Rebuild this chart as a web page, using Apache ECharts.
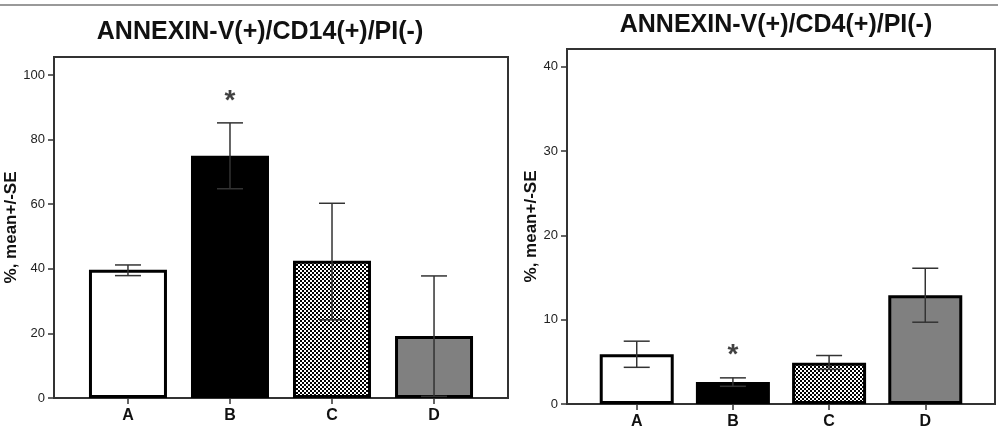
<!DOCTYPE html>
<html>
<head>
<meta charset="utf-8">
<script src="https://cdn.jsdelivr.net/npm/echarts@6/dist/echarts.min.js"></script>
<style>
html,body{margin:0;padding:0;background:#fff;}
#chart{width:998px;height:430px;}
</style>
</head>
<body>
<div id="chart"></div>
<script>
// ---- data ----
var categories = ['A', 'B', 'C', 'D'];
var titleLeft = 'ANNEXIN-V(+)/CD14(+)/PI(-)';
var titleRight = 'ANNEXIN-V(+)/CD4(+)/PI(-)';
var yAxisName = '%, mean+/-SE';

var cd14Mean = [39.7, 75.0, 42.5, 19.2];
var cd14Low  = [37.9, 64.8, 24.2, 0.5];
var cd14High = [41.2, 85.2, 60.3, 37.8];
var cd14Ticks = [0, 20, 40, 60, 80, 100];
var cd14Star = [null, 92, null, null];

var cd4Mean = [5.9, 2.6, 4.9, 12.9];
var cd4Low  = [4.35, 2.1, 4.1, 9.7];
var cd4High = [7.45, 3.1, 5.75, 16.1];
var cd4Ticks = [0, 10, 20, 30, 40];
var cd4Star = [null, 5.8, null, null];

// ---- styles ----
function checker() {
  var c = document.createElement('canvas');
  c.width = 4; c.height = 4;
  var g = c.getContext('2d');
  g.fillStyle = '#fff'; g.fillRect(0, 0, 4, 4);
  g.fillStyle = '#000';
  g.fillRect(0, 0, 2, 2);
  g.fillRect(2, 2, 2, 2);
  return c;
}
var FONT = 'Liberation Sans, Arial, sans-serif';
var fills = ['#ffffff', '#000000', {image: checker(), repeat: 'repeat'}, '#808080'];
var catIdx = categories.map(function (c, i) { return i; });

function barData(vals) {
  return vals.map(function (v, i) {
    return {value: [i, v], itemStyle: {color: fills[i], borderColor: '#000', borderWidth: 3}};
  });
}
function errData(lo, hi) {
  return lo.map(function (l, i) { return [i, l, hi[i]]; });
}
function starData(s) {
  var out = [];
  s.forEach(function (v, i) { if (v !== null) out.push([i, v]); });
  return out;
}
function renderErr(params, api) {
  var x = api.value(0);
  var p1 = api.coord([x, api.value(1)]);
  var p2 = api.coord([x, api.value(2)]);
  var hw = 13;
  var st = {stroke: '#333', lineWidth: 1.5};
  return {
    type: 'group',
    children: [
      {type: 'line', shape: {x1: p1[0], y1: p1[1], x2: p2[0], y2: p2[1]}, style: st},
      {type: 'line', shape: {x1: p1[0] - hw, y1: p1[1], x2: p1[0] + hw, y2: p1[1]}, style: st},
      {type: 'line', shape: {x1: p2[0] - hw, y1: p2[1], x2: p2[0] + hw, y2: p2[1]}, style: st}
    ]
  };
}

function xAxisDef(gi) {
  return {
    type: 'value', gridIndex: gi, min: -0.725, max: 3.725,
    splitLine: {show: false},
    axisLine: {show: true, onZero: false, lineStyle: {color: '#333', width: 2}},
    axisTick: {show: true, customValues: catIdx, length: 6, lineStyle: {color: '#333', width: 1.5}},
    axisLabel: {customValues: catIdx, margin: 10, fontSize: 16, fontWeight: 'bold', color: '#111',
      fontFamily: FONT,
      formatter: function (v) { return categories[Math.round(v)]; }}
  };
}
function yAxisDef(gi, max, ticks, gap) {
  return {
    type: 'value', gridIndex: gi, min: 0, max: max,
    name: yAxisName, nameLocation: 'middle', nameRotate: 90, nameGap: gap,
    nameTextStyle: {fontSize: 17, fontWeight: 'bold', color: '#111', fontFamily: FONT},
    splitLine: {show: false},
    axisLine: {show: true, onZero: false, lineStyle: {color: '#333', width: 2}},
    axisTick: {show: true, customValues: ticks, length: 6, lineStyle: {color: '#333', width: 1.5}},
    axisLabel: {customValues: ticks, margin: 9, fontSize: 13, color: '#222', fontFamily: FONT}
  };
}

var chart = echarts.init(document.getElementById('chart'), null, {renderer: 'canvas'});
chart.setOption({
  animation: false,
  backgroundColor: '#fff',
  graphic: [
    {type: 'line', shape: {x1: 0, y1: 5, x2: 998, y2: 5}, style: {stroke: '#777', lineWidth: 1.5}},
    {type: 'text', x: 260, y: 32, style: {text: titleLeft, textAlign: 'center', textVerticalAlign: 'middle',
      font: 'bold 25px "Liberation Sans", Arial, sans-serif', fill: '#111'}},
    {type: 'text', x: 776, y: 25, style: {text: titleRight, textAlign: 'center', textVerticalAlign: 'middle',
      font: 'bold 25px "Liberation Sans", Arial, sans-serif', fill: '#111'}}
  ],
  grid: [
    {left: 54, top: 57, width: 454, height: 341, show: true, borderColor: '#333', borderWidth: 2, backgroundColor: 'transparent'},
    {left: 567, top: 49, width: 428, height: 356, show: true, borderColor: '#333', borderWidth: 2, backgroundColor: 'transparent'}
  ],
  xAxis: [xAxisDef(0), xAxisDef(1)],
  yAxis: [yAxisDef(0, 105.6, cd14Ticks, 34), yAxisDef(1, 42.1, cd4Ticks, 24)],
  series: [
    {type: 'bar', xAxisIndex: 0, yAxisIndex: 0, barWidth: 78, data: barData(cd14Mean), z: 2},
    {type: 'custom', xAxisIndex: 0, yAxisIndex: 0, renderItem: renderErr, data: errData(cd14Low, cd14High), z: 5},
    {type: 'scatter', xAxisIndex: 0, yAxisIndex: 0, symbolSize: 0, data: starData(cd14Star), z: 6,
      label: {show: true, position: 'inside', formatter: '*', fontSize: 28, fontWeight: 'bold', color: '#111',
        fontFamily: FONT}},
    {type: 'bar', xAxisIndex: 1, yAxisIndex: 1, barWidth: 74, data: barData(cd4Mean), z: 2},
    {type: 'custom', xAxisIndex: 1, yAxisIndex: 1, renderItem: renderErr, data: errData(cd4Low, cd4High), z: 5},
    {type: 'scatter', xAxisIndex: 1, yAxisIndex: 1, symbolSize: 0, data: starData(cd4Star), z: 6,
      label: {show: true, position: 'inside', formatter: '*', fontSize: 28, fontWeight: 'bold', color: '#111',
        fontFamily: FONT}}
  ]
});
</script>
</body>
</html>
